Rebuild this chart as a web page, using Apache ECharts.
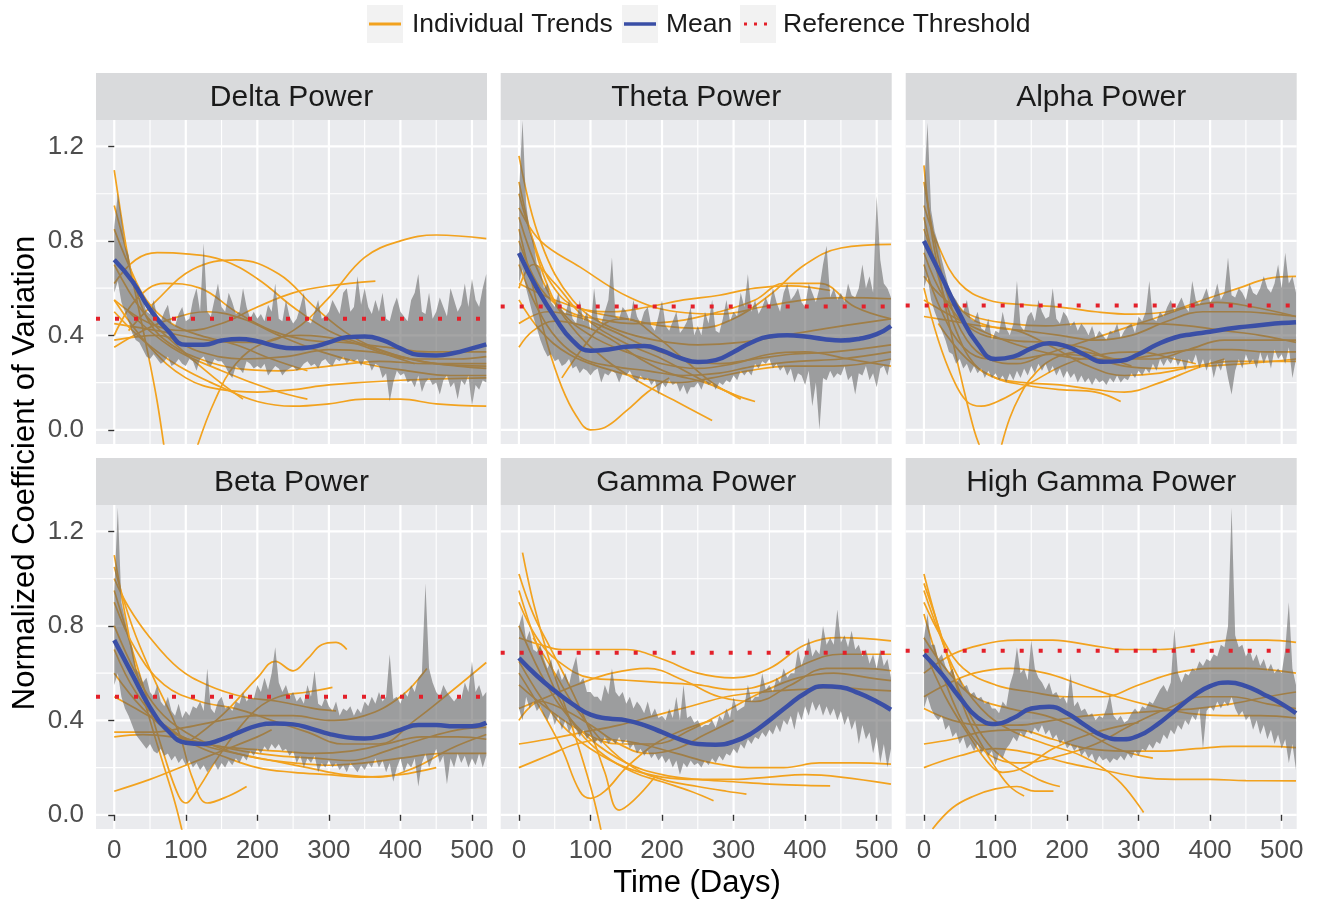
<!DOCTYPE html>
<html>
<head>
<meta charset="utf-8">
<script src="https://cdn.jsdelivr.net/npm/echarts@6/dist/echarts.min.js"></script>
<style>
  html, body { margin: 0; padding: 0; background: #ffffff; }
  #chart { width: 1321px; height: 904px; }
</style>
</head>
<body>
<div id="chart"></div>
<script>
// ---------- data ----------
const panelTitles = ['Delta Power', 'Theta Power', 'Alpha Power', 'Beta Power', 'Gamma Power', 'High Gamma Power'];
const thresholds = [0.47, 0.522, 0.527, 0.50, 0.686, 0.695];

const xTicks = [0, 100, 200, 300, 400, 500];
const xMinorBreaks = [50, 150, 250, 350, 450];
const yTicks = [0, 0.4, 0.8, 1.2];
const yMinorBreaks = [0.2, 0.6, 1.0];

// smoothed group mean, sampled on these days
const meanDays = [0, 25, 50, 75, 100, 125, 150, 175, 200, 225, 250, 275, 300, 325, 350, 375, 400, 425, 450, 475, 500, 520];
const deltaMean     = [.72, .63, .51, .42, .36, .36, .378, .385, .375, .355, .345, .35, .37, .392, .395, .38, .345, .318, .315, .325, .345, .362];
const thetaMean     = [.749, .60, .477, .378, .335, .34, .352, .355, .335, .305, .287, .295, .33, .37, .395, .40, .395, .385, .378, .385, .405, .44];
const alphaMean     = [.80, .647, .49, .364, .30, .31, .345, .367, .352, .318, .288, .292, .32, .36, .39, .405, .415, .428, .437, .445, .452, .456];
const betaMean      = [.74, .596, .455, .356, .305, .30, .32, .35, .378, .387, .383, .365, .343, .328, .323, .335, .36, .38, .38, .375, .375, .39];
const gammaMean     = [.664, .589, .525, .469, .424, .408, .40, .38, .35, .32, .30, .297, .31, .345, .40, .46, .515, .545, .54, .515, .48, .445];
const highGammaMean = [.68, .596, .497, .412, .385, .41, .45, .458, .43, .38, .335, .32, .335, .38, .44, .50, .545, .56, .545, .51, .47, .43];

// daily spread band (upper / lower), one value every BAND_STEP days from day 0 to 520
const BAND_STEP = 5;
const deltaBandHi = [
  .86,1.0,.9,.78,.74,.64,.63,.56,.55,.5,
  .49,.55,.48,.46,.5,.53,.45,.44,.49,.52,
  .46,.47,.55,.6,.5,.79,.5,.48,.55,.62,
  .52,.5,.58,.54,.49,.5,.6,.52,.47,.5,
  .47,.49,.46,.53,.5,.62,.47,.46,.55,.48,
  .45,.47,.52,.58,.46,.45,.5,.55,.47,.48,
  .5,.55,.52,.49,.58,.6,.5,.52,.65,.53,
  .6,.52,.49,.55,.5,.58,.47,.46,.52,.56,
  .5,.48,.46,.55,.58,.66,.5,.49,.58,.47,
  .5,.56,.52,.48,.6,.55,.5,.53,.62,.52,
  .64,.55,.52,.6,.66];
const deltaBandLo = [
  .58,.63,.54,.5,.46,.41,.38,.37,.34,.31,
  .3,.32,.3,.28,.29,.31,.27,.28,.3,.28,
  .27,.3,.29,.25,.3,.31,.28,.27,.3,.29,
  .29,.27,.24,.22,.27,.26,.24,.29,.28,.26,
  .27,.26,.28,.23,.25,.27,.26,.23,.25,.26,
  .27,.25,.26,.28,.29,.27,.28,.26,.29,.3,
  .28,.27,.3,.29,.31,.28,.3,.29,.3,.27,
  .3,.29,.25,.28,.27,.22,.24,.12,.2,.25,
  .23,.24,.2,.21,.18,.23,.16,.2,.22,.19,
  .2,.15,.21,.23,.18,.2,.13,.21,.19,.23,
  .1,.19,.17,.21,.2];
const thetaBandHi = [
  1.0,1.31,.96,.84,.8,.7,.68,.6,.62,.54,
  .52,.58,.51,.49,.55,.47,.45,.55,.46,.5,
  .42,.6,.47,.45,.5,.55,.73,.48,.47,.52,
  .5,.46,.55,.48,.45,.5,.52,.44,.42,.48,
  .55,.44,.42,.46,.5,.41,.43,.46,.52,.4,
  .44,.4,.5,.45,.55,.42,.41,.47,.55,.46,
  .5,.48,.58,.52,.66,.5,.55,.49,.52,.56,
  .52,.6,.54,.5,.58,.62,.55,.57,.6,.54,
  .52,.62,.58,.54,.6,.7,.78,.56,.6,.55,
  .58,.54,.62,.57,.56,.6,.7,.6,.65,.58,
  .99,.72,.62,.6,.56];
const thetaBandLo = [
  .62,.68,.6,.54,.48,.43,.38,.34,.31,.32,
  .29,.3,.27,.28,.3,.26,.27,.24,.26,.25,
  .23,.25,.26,.2,.24,.23,.25,.24,.2,.24,
  .23,.25,.22,.2,.23,.21,.22,.19,.21,.15,
  .2,.18,.21,.19,.2,.16,.19,.15,.18,.18,
  .2,.17,.21,.19,.2,.17,.2,.19,.21,.2,
  .23,.21,.25,.23,.25,.23,.28,.26,.29,.28,
  .3,.26,.28,.25,.27,.23,.26,.2,.24,.23,
  .19,.25,.1,.2,.0,.22,.21,.25,.22,.24,
  .23,.27,.21,.23,.15,.24,.23,.27,.21,.24,
  .18,.26,.27,.23,.3];
const alphaBandHi = [
  1.0,1.3,.93,.84,.79,.72,.66,.6,.57,.55,
  .52,.5,.55,.47,.46,.5,.43,.42,.47,.38,
  .42,.41,.5,.43,.4,.45,.63,.44,.42,.48,
  .5,.46,.55,.5,.47,.48,.6,.47,.45,.5,
  .48,.44,.46,.42,.45,.43,.4,.44,.39,.42,
  .4,.38,.42,.41,.45,.39,.42,.44,.45,.41,
  .48,.46,.5,.63,.47,.46,.5,.48,.52,.55,
  .5,.53,.56,.52,.5,.63,.55,.53,.56,.6,
  .54,.56,.62,.55,.58,.73,.57,.56,.6,.58,
  .55,.62,.58,.57,.6,.65,.6,.58,.62,.7,
  .6,.75,.62,.65,.58];
const alphaBandLo = [
  .6,.65,.55,.5,.46,.42,.38,.33,.32,.28,
  .3,.26,.28,.24,.27,.24,.26,.22,.25,.22,
  .24,.21,.23,.2,.24,.21,.25,.22,.26,.23,
  .27,.24,.28,.25,.28,.24,.27,.23,.26,.22,
  .25,.22,.24,.2,.23,.2,.22,.19,.22,.2,
  .21,.19,.22,.2,.23,.2,.22,.21,.24,.22,
  .25,.23,.26,.24,.28,.25,.3,.27,.3,.28,
  .31,.27,.3,.25,.3,.28,.32,.26,.3,.25,
  .3,.22,.28,.25,.3,.22,.15,.25,.3,.26,
  .32,.28,.3,.26,.33,.28,.32,.26,.34,.3,
  .32,.28,.35,.22,.3];
const betaBandHi = [
  .95,1.3,.9,.83,.75,.71,.62,.6,.56,.58,
  .52,.5,.55,.48,.46,.5,.44,.42,.47,.41,
  .44,.42,.46,.45,.48,.44,.62,.45,.43,.48,
  .5,.45,.46,.44,.48,.47,.52,.48,.5,.49,
  .55,.52,.58,.53,.6,.71,.56,.52,.55,.5,
  .52,.48,.5,.47,.55,.5,.61,.47,.46,.5,
  .46,.44,.48,.42,.45,.44,.46,.42,.45,.43,
  .48,.46,.5,.47,.52,.48,.5,.68,.49,.5,
  .47,.52,.5,.55,.52,.58,.6,.98,.62,.56,
  .52,.5,.55,.52,.5,.48,.5,.49,.56,.52,
  .65,.52,.55,.5,.52];
const betaBandLo = [
  .55,.6,.5,.45,.42,.38,.34,.32,.3,.28,
  .3,.27,.26,.28,.25,.26,.23,.25,.22,.24,
  .21,.23,.2,.22,.19,.21,.18,.2,.22,.19,
  .22,.2,.23,.21,.24,.22,.25,.23,.27,.25,
  .28,.26,.29,.27,.3,.28,.3,.27,.28,.25,
  .27,.22,.25,.2,.24,.22,.25,.18,.22,.2,
  .23,.2,.22,.19,.21,.18,.22,.2,.18,.21,
  .19,.22,.2,.24,.2,.23,.18,.22,.14,.2,
  .24,.18,.22,.2,.24,.12,.22,.26,.2,.24,
  .28,.22,.25,.13,.24,.2,.26,.22,.25,.2,
  .24,.21,.26,.2,.25];
const gammaBandHi = [
  .8,.85,.74,.78,.7,.69,.72,.66,.62,.66,
  .58,.62,.57,.6,.55,.62,.67,.56,.58,.52,
  .52,.5,.5,.48,.55,.51,.62,.52,.5,.52,
  .47,.5,.45,.48,.46,.43,.48,.42,.45,.41,
  .42,.4,.45,.41,.5,.4,.55,.41,.42,.39,
  .4,.37,.38,.38,.4,.37,.42,.4,.45,.41,
  .5,.44,.45,.46,.55,.48,.5,.5,.6,.53,
  .55,.52,.58,.56,.62,.58,.6,.6,.7,.63,
  .68,.75,.67,.7,.68,.8,.72,.75,.72,.87,
  .73,.76,.71,.78,.7,.72,.67,.7,.64,.68,
  .62,.7,.63,.66,.58];
const gammaBandLo = [
  .45,.4,.5,.45,.48,.44,.46,.42,.4,.44,
  .38,.42,.36,.4,.35,.38,.36,.33,.36,.32,
  .34,.3,.32,.3,.33,.3,.32,.3,.33,.3,
  .32,.28,.3,.26,.28,.25,.27,.24,.26,.23,
  .25,.22,.24,.2,.23,.17,.22,.2,.23,.21,
  .22,.2,.23,.21,.24,.22,.25,.23,.26,.25,
  .28,.26,.3,.28,.32,.3,.33,.32,.35,.33,
  .36,.34,.38,.35,.4,.38,.42,.36,.44,.4,
  .46,.42,.48,.44,.47,.42,.46,.42,.45,.4,
  .44,.38,.42,.36,.4,.3,.38,.32,.35,.26,
  .33,.22,.3,.2,.28];
const highGammaBandHi = [
  .75,.85,.72,.72,.66,.68,.63,.6,.62,.56,
  .58,.54,.55,.51,.52,.49,.5,.47,.48,.45,
  .45,.43,.48,.46,.55,.6,.71,.6,.62,.57,
  .74,.62,.58,.56,.53,.56,.51,.52,.49,.5,
  .47,.6,.46,.48,.44,.45,.42,.43,.4,.42,
  .41,.45,.51,.42,.4,.42,.39,.4,.43,.45,
  .43,.46,.45,.48,.47,.5,.53,.55,.52,.56,
  .79,.6,.56,.6,.59,.62,.61,.65,.63,.66,
  .65,.68,.67,.72,.71,.8,1.3,.76,.71,.72,
  .67,.7,.65,.68,.63,.66,.61,.64,.6,.62,
  .6,.7,.9,.62,.55];
const highGammaBandLo = [
  .45,.5,.45,.42,.4,.42,.36,.38,.33,.35,
  .3,.33,.28,.3,.27,.3,.26,.28,.25,.27,
  .21,.26,.24,.28,.3,.33,.31,.35,.33,.36,
  .34,.37,.35,.38,.34,.36,.32,.34,.3,.32,
  .28,.3,.27,.29,.25,.27,.24,.26,.22,.25,
  .23,.24,.22,.24,.23,.25,.23,.26,.24,.27,
  .25,.28,.27,.3,.28,.31,.3,.34,.32,.36,
  .34,.38,.36,.4,.38,.42,.4,.45,.28,.44,
  .46,.44,.48,.45,.48,.46,.5,.45,.42,.44,
  .4,.42,.36,.4,.34,.38,.32,.36,.3,.34,
  .28,.32,.22,.3,.19];

// individual subject trends: [day, value] points of each fitted curve
const deltaTrends = [
  [[0,.45],[60,.42],[130,.38],[200,.37],[250,.42],[300,.56],[350,.73],[400,.80],[450,.825],[520,.81]],
  [[0,.55],[50,.45],[100,.42],[150,.45],[200,.52],[250,.58],[300,.61],[365,.63]],
  [[0,.62],[30,.72],[60,.75],[100,.745],[150,.72],[200,.64],[250,.52],[300,.42],[350,.36],[400,.31],[450,.28],[520,.27]],
  [[20,.42],[60,.55],[110,.68],[170,.72],[230,.66],[280,.52],[330,.40],[380,.33],[430,.29],[480,.27],[520,.26]],
  [[0,1.1],[10,.9],[20,.72],[35,.5],[50,.28],[60,.12],[70,-.08]],
  [[115,-.08],[140,.12],[170,.28],[210,.37],[260,.4],[320,.38],[380,.32],[420,.28]],
  [[0,.5],[40,.38],[90,.27],[150,.18],[200,.12],[250,.10],[300,.11],[350,.13],[400,.13],[450,.11],[520,.10]],
  [[0,.55],[50,.35],[100,.22],[150,.17],[200,.16],[250,.17],[300,.19],[400,.21],[520,.22]],
  [[20,.5],[80,.35],[150,.25],[220,.17],[270,.13]],
  [[0,.7],[40,.5],[90,.35],[140,.22],[180,.13]],
  [[0,.38],[60,.4],[120,.33],[180,.3],[240,.31],[300,.34],[360,.33],[420,.3],[480,.3],[520,.31]],
  [[0,.35],[40,.42],[80,.47],[130,.5],[180,.47],[230,.4],[290,.33],[350,.28],[410,.25],[470,.23],[520,.23]],
  [[0,.95],[15,.78],[30,.6],[50,.45],[80,.36],[120,.3],[170,.26],[230,.25],[300,.27],[370,.29],[440,.28],[520,.28]],
  [[0,.85],[20,.7],[45,.55],[80,.45],[120,.4],[170,.36],[220,.3],[270,.25]],
  [[0,.4],[30,.55],[70,.62],[120,.6],[170,.5],[220,.42],[270,.38],[320,.37],[380,.35],[440,.33],[520,.33]]
];
const thetaTrends = [
  [[0,1.16],[15,.95],[30,.8],[50,.66],[75,.55],[100,.48],[140,.42],[190,.38],[250,.36],[310,.37],[370,.4],[430,.43],[520,.47]],
  [[0,.62],[50,.55],[100,.5],[150,.47],[200,.44],[250,.43],[300,.47],[350,.57],[400,.7],[450,.77],[520,.785]],
  [[0,.9],[30,.65],[70,.45],[120,.3],[170,.2],[220,.12],[270,.04]],
  [[0,.85],[20,.6],[40,.36],[60,.18],[80,.06],[100,0],[120,.01],[150,.08],[180,.16],[210,.22]],
  [[0,1.0],[20,.8],[45,.62],[80,.52],[130,.5],[180,.52],[230,.55],[280,.57],[330,.6],[380,.61],[435,.59]],
  [[0,.94],[30,.8],[85,.69],[155,.56],[220,.5],[280,.49],[340,.52],[400,.55],[460,.56],[520,.555]],
  [[0,.45],[40,.5],[80,.48],[130,.42],[180,.35],[230,.3],[280,.28],[330,.3],[380,.32],[440,.33],[520,.36]],
  [[0,.55],[30,.42],[70,.32],[120,.26],[170,.22],[220,.2],[270,.22],[320,.25],[380,.27],[440,.27],[520,.3]],
  [[0,.35],[20,.42],[50,.46],[90,.44],[130,.38],[170,.3],[210,.24],[260,.2],[300,.15]],
  [[0,.7],[25,.52],[55,.38],[90,.3],[130,.27],[180,.25],[230,.23],[280,.24],[330,.27],[390,.29],[450,.3],[520,.33]],
  [[0,1.05],[15,.85],[35,.65],[60,.5],[100,.4],[150,.33],[200,.28],[250,.26],[300,.28],[350,.32],[400,.33],[460,.3],[520,.27]],
  [[0,.8],[30,.6],[70,.5],[110,.47],[160,.45],[220,.46],[280,.5],[330,.55],[370,.62],[420,.62],[470,.52],[520,.47]],
  [[60,.22],[90,.35],[120,.45],[150,.47],[190,.4],[230,.3],[270,.2],[310,.13]],
  [[0,.6],[20,.7],[50,.62],[90,.48],[140,.38],[200,.3],[250,.22],[300,.15],[330,.12]]
];
const alphaTrends = [
  [[0,1.12],[10,.85],[25,.6],[40,.38],[55,.18],[70,0],[78,-.07]],
  [[108,-.07],[120,.05],[135,.15],[150,.22],[180,.3],[220,.33],[260,.3],[290,.27]],
  [[0,.95],[20,.78],[50,.62],[90,.55],[140,.53],[190,.52],[240,.5],[290,.49],[340,.5],[390,.55],[440,.6],[480,.64],[520,.65]],
  [[0,.85],[25,.65],[55,.5],[90,.44],[140,.42],[190,.4],[240,.38],[290,.4],[340,.46],[390,.5],[440,.5],[490,.49],[520,.48]],
  [[0,.75],[30,.55],[70,.42],[120,.38],[170,.37],[220,.35],[270,.3],[320,.3],[370,.34],[420,.38],[470,.38],[520,.38]],
  [[0,.55],[40,.48],[80,.42],[130,.36],[180,.32],[230,.3],[280,.3],[330,.32],[380,.34],[430,.34],[480,.33],[520,.33]],
  [[0,.48],[40,.46],[80,.44],[130,.42],[180,.35],[230,.27],[280,.23],[330,.24],[380,.27],[430,.29],[480,.29],[520,.29]],
  [[0,.9],[20,.65],[45,.42],[70,.28],[100,.22],[140,.2],[190,.19],[240,.17],[280,.16],[330,.2],[380,.26],[420,.3]],
  [[0,1.05],[15,.8],[35,.55],[60,.38],[90,.3],[130,.28],[170,.32],[210,.36],[250,.4],[290,.44],[330,.48],[370,.52],[410,.54],[460,.52],[520,.48]],
  [[0,.65],[30,.55],[70,.48],[120,.45],[170,.44],[220,.45],[270,.45],[320,.45],[370,.44],[420,.42],[470,.4],[520,.37]],
  [[20,.45],[60,.3],[100,.22],[140,.19],[190,.17],[240,.16],[275,.12]],
  [[0,.6],[20,.38],[40,.22],[60,.12],[80,.1],[110,.13],[150,.2],[200,.28],[250,.32],[300,.33],[350,.3],[380,.28]],
  [[0,.7],[25,.5],[55,.35],[90,.3],[130,.3],[180,.32],[230,.31],[280,.27],[330,.26],[390,.27],[450,.28],[520,.3]]
];
const betaTrends = [
  [[0,.1],[50,.15],[100,.21],[150,.27],[200,.33],[220,.36]],
  [[100,.3],[150,.42],[200,.58],[225,.65],[250,.61],[270,.66],[290,.72],[310,.73],[325,.7]],
  [[0,1.1],[15,.85],[30,.62],[50,.4],[70,.2],[85,.05],[95,-.07]],
  [[0,1.05],[25,.8],[55,.58],[90,.35],[110,.15],[130,.05],[160,.08],[185,.12]],
  [[0,.95],[20,.75],[45,.5],[70,.25],[90,.08],[100,.05],[115,.1],[140,.22],[170,.35],[200,.45],[230,.5],[270,.52],[305,.54]],
  [[0,.35],[50,.35],[100,.37],[150,.4],[200,.42],[250,.42],[300,.4],[350,.42],[400,.5],[437,.62]],
  [[0,.9],[30,.7],[70,.55],[120,.48],[170,.45],[220,.4],[270,.35],[320,.3],[370,.3],[420,.4],[470,.52],[520,.645]],
  [[0,.7],[30,.52],[70,.38],[120,.3],[170,.26],[220,.23],[270,.2],[320,.17],[370,.16],[420,.2],[470,.28],[520,.34]],
  [[0,.6],[40,.45],[80,.35],[130,.3],[180,.28],[230,.27],[280,.26],[330,.27],[380,.3],[430,.33],[480,.33],[520,.32]],
  [[0,.8],[30,.6],[60,.45],[100,.35],[150,.28],[200,.24],[250,.22],[300,.21],[350,.22],[400,.24],[460,.26],[520,.26]],
  [[0,.33],[40,.34],[80,.33],[130,.3],[180,.27],[230,.25],[280,.24],[330,.23],[380,.27],[430,.32],[480,.36],[520,.37]],
  [[0,1.0],[20,.88],[50,.75],[90,.62],[130,.55],[180,.5],[230,.48],[280,.45],[310,.44]],
  [[0,.5],[30,.45],[70,.38],[110,.3],[150,.25],[200,.2],[250,.18],[300,.17],[350,.16],[400,.17],[450,.2]]
];
const gammaTrends = [
  [[5,1.11],[20,.9],[40,.68],[60,.5],[80,.32],[100,.12],[110,0],[115,-.07]],
  [[0,1.02],[20,.85],[45,.7],[70,.55],[100,.35],[120,.18],[140,.02],[160,.06],[190,.16]],
  [[0,.6],[30,.45],[60,.28],[85,.1],[100,.07],[120,.1],[150,.2],[190,.3],[230,.36],[270,.4]],
  [[0,.75],[30,.72],[60,.7],[100,.7],[150,.7],[200,.66],[250,.6],[300,.58],[350,.62],[400,.72],[450,.75],[520,.737]],
  [[0,.9],[25,.75],[55,.65],[100,.58],[150,.57],[200,.56],[250,.55],[300,.53],[350,.56],[400,.64],[450,.68],[520,.68]],
  [[0,.45],[40,.5],[80,.55],[130,.6],[180,.62],[230,.57],[280,.5],[330,.48],[380,.55],[430,.62],[480,.62],[520,.61]],
  [[0,.55],[40,.45],[90,.35],[140,.3],[190,.3],[240,.36],[290,.44],[340,.52],[390,.58],[440,.6],[490,.58],[520,.568]],
  [[0,.3],[40,.32],[90,.35],[140,.38],[190,.42],[240,.46],[290,.5],[340,.52],[390,.53],[440,.54],[490,.53],[520,.525]],
  [[0,.2],[40,.25],[80,.3],[120,.32],[170,.3],[220,.26],[270,.22],[320,.2],[370,.2],[420,.22],[470,.22],[520,.215]],
  [[0,.65],[30,.5],[60,.38],[100,.28],[150,.2],[200,.16],[250,.15],[300,.15],[350,.16],[400,.17],[450,.16],[520,.13]],
  [[0,.8],[30,.6],[60,.45],[100,.32],[150,.22],[200,.17],[250,.15],[300,.14],[350,.13],[400,.125],[435,.123]],
  [[20,.75],[50,.6],[80,.45],[120,.3],[160,.2],[200,.15],[250,.12],[290,.1],[318,.088]],
  [[0,.95],[25,.72],[55,.5],[85,.35],[120,.25],[160,.18],[200,.14],[240,.1],[272,.06]],
  [[0,.4],[30,.48],[60,.45],[100,.38],[140,.3],[180,.26],[220,.28],[260,.34],[300,.4]]
];
const highGammaTrends = [
  [[0,1.02],[15,.85],[35,.65],[60,.45],[90,.3],[120,.22],[160,.15],[190,.12]],
  [[12,-.06],[40,.03],[70,.08],[100,.11],[130,.12],[155,.1],[181,.1]],
  [[0,.95],[20,.78],[45,.6],[80,.45],[120,.36],[170,.3],[220,.25],[270,.15],[307,.01]],
  [[0,.6],[40,.68],[80,.72],[130,.74],[180,.74],[230,.72],[280,.7],[330,.7],[380,.72],[430,.74],[480,.74],[520,.73]],
  [[0,.9],[25,.75],[55,.62],[100,.55],[150,.52],[200,.5],[250,.5],[300,.55],[350,.6],[400,.62],[450,.62],[520,.6]],
  [[0,.5],[30,.55],[70,.6],[120,.62],[170,.6],[220,.55],[270,.5],[320,.46],[370,.43],[420,.42],[470,.42],[520,.41]],
  [[0,.3],[40,.32],[80,.35],[130,.36],[180,.32],[230,.28],[280,.27],[330,.27],[380,.28],[430,.29],[480,.29],[520,.285]],
  [[0,.2],[50,.25],[100,.28],[150,.26],[200,.22],[250,.19],[300,.16],[350,.15],[400,.15],[450,.145],[520,.144]],
  [[0,.85],[20,.65],[45,.45],[70,.32],[100,.24],[140,.22],[190,.25],[240,.3],[290,.38],[340,.45],[390,.5],[430,.5],[480,.47],[520,.45]],
  [[0,.7],[30,.5],[60,.35],[90,.22],[110,.18],[140,.2],[180,.28],[230,.34],[280,.38],[300,.39]],
  [[0,.98],[20,.8],[40,.6],[60,.42],[80,.3],[100,.2],[120,.12],[140,.08]],
  [[0,.45],[40,.4],[80,.38],[130,.38],[180,.4],[230,.42],[280,.43],[330,.44],[380,.45],[430,.47],[480,.5],[520,.52]],
  [[0,.75],[30,.62],[70,.5],[120,.45],[170,.42],[220,.36],[270,.28],[320,.24]]
];

// ---------- layout & style ----------
const FONT = '"Liberation Sans", Arial, Helvetica, sans-serif';
const X_MIN = -25.5, X_MAX = 521;
const Y_MIN = -0.06, Y_MAX = 1.312;
const COL_LEFT = [96, 500.7, 905.7];
const PANEL_W = 391;
const PLOT_TOP = [120, 505];
const PLOT_H = 324;
const STRIP_H = 47;

const C_TREND = '#F2A21E';
const C_MEAN = '#3A4FA6';
const C_THR = '#E3202A';
const C_BAND = 'rgba(100,100,100,0.58)';
const C_PANEL = '#EAEBEE';
const C_STRIP = '#D9DADC';

const panels = [
  { title: panelTitles[0], mean: deltaMean,     hi: deltaBandHi,     lo: deltaBandLo,     trends: deltaTrends,     thr: thresholds[0] },
  { title: panelTitles[1], mean: thetaMean,     hi: thetaBandHi,     lo: thetaBandLo,     trends: thetaTrends,     thr: thresholds[1] },
  { title: panelTitles[2], mean: alphaMean,     hi: alphaBandHi,     lo: alphaBandLo,     trends: alphaTrends,     thr: thresholds[2] },
  { title: panelTitles[3], mean: betaMean,      hi: betaBandHi,      lo: betaBandLo,      trends: betaTrends,      thr: thresholds[3] },
  { title: panelTitles[4], mean: gammaMean,     hi: gammaBandHi,     lo: gammaBandLo,     trends: gammaTrends,     thr: thresholds[4] },
  { title: panelTitles[5], mean: highGammaMean, hi: highGammaBandHi, lo: highGammaBandLo, trends: highGammaTrends, thr: thresholds[5] }
];

// white major / minor grid lines, drawn through the panel's own scales
function renderGridLines(params, api) {
  const children = [];
  const seg = (a, b, w) => children.push({
    type: 'line',
    shape: { x1: a[0], y1: a[1], x2: b[0], y2: b[1] },
    style: { stroke: '#ffffff', lineWidth: w }
  });
  xMinorBreaks.forEach(v => seg(api.coord([v, Y_MIN]), api.coord([v, Y_MAX]), 1.1));
  yMinorBreaks.forEach(v => seg(api.coord([X_MIN, v]), api.coord([X_MAX, v]), 1.1));
  xTicks.forEach(v => seg(api.coord([v, Y_MIN]), api.coord([v, Y_MAX]), 2.2));
  yTicks.forEach(v => seg(api.coord([X_MIN, v]), api.coord([X_MAX, v]), 2.2));
  return { type: 'group', children };
}

function bandRenderer(hi, lo) {
  return function (params, api) {
    const pts = [];
    for (let k = 0; k < hi.length; k++) pts.push(api.coord([k * BAND_STEP, hi[k]]));
    for (let k = lo.length - 1; k >= 0; k--) pts.push(api.coord([k * BAND_STEP, lo[k]]));
    return { type: 'polygon', shape: { points: pts }, style: { fill: C_BAND } };
  };
}

const grids = [], xAxes = [], yAxes = [], series = [], graphics = [];

panels.forEach((p, i) => {
  const r = Math.floor(i / 3), c = i % 3;
  const left = COL_LEFT[c], top = PLOT_TOP[r];

  grids.push({ left, top, width: PANEL_W, height: PLOT_H, show: true, backgroundColor: C_PANEL, borderWidth: 0 });

  xAxes.push({
    type: 'value', gridIndex: i, min: X_MIN, max: X_MAX,
    axisLine: { show: false }, splitLine: { show: false },
    axisTick: { show: r === 1, length: 6, lineStyle: { color: '#333333', width: 1.4 }, customValues: xTicks },
    axisLabel: { show: r === 1, customValues: xTicks, fontSize: 26, color: '#4D4D4D', fontFamily: FONT, margin: 9 }
  });
  yAxes.push({
    type: 'value', gridIndex: i, min: Y_MIN, max: Y_MAX,
    axisLine: { show: false }, splitLine: { show: false },
    axisTick: { show: c === 0, length: 6, lineStyle: { color: '#333333', width: 1.4 }, customValues: yTicks },
    axisLabel: { show: c === 0, customValues: yTicks, fontSize: 26, color: '#4D4D4D', fontFamily: FONT, margin: 12,
                 formatter: v => Number(v).toFixed(1) }
  });

  series.push({
    type: 'custom', name: 'grid', xAxisIndex: i, yAxisIndex: i, silent: true, z: 0,
    data: [[0, 0]], renderItem: renderGridLines
  });
  p.trends.forEach(t => series.push({
    type: 'line', name: 'Individual Trends', xAxisIndex: i, yAxisIndex: i, silent: true, z: 1,
    data: t, smooth: 0.4, symbol: 'none', showSymbol: false,
    lineStyle: { color: C_TREND, width: 1.7 }
  }));
  series.push({
    type: 'custom', name: 'Spread', xAxisIndex: i, yAxisIndex: i, silent: true, z: 2, clip: true,
    data: [[0, 0]], renderItem: bandRenderer(p.hi, p.lo)
  });
  series.push({
    type: 'line', name: 'Mean', xAxisIndex: i, yAxisIndex: i, silent: true, z: 3,
    data: meanDays.map((d, k) => [d, p.mean[k]]), smooth: 0.5, symbol: 'none', showSymbol: false,
    lineStyle: { color: C_MEAN, width: 4.5 }
  });
  series.push({
    type: 'line', name: 'Reference Threshold', xAxisIndex: i, yAxisIndex: i, silent: true, z: 4,
    data: [[X_MIN, p.thr], [X_MAX, p.thr]], symbol: 'none', showSymbol: false,
    lineStyle: { color: C_THR, width: 4, type: [4, 15] }
  });

  // facet strip
  graphics.push({ type: 'rect', silent: true,
    shape: { x: left, y: top - STRIP_H, width: PANEL_W, height: STRIP_H }, style: { fill: C_STRIP } });
  graphics.push({ type: 'text', silent: true, x: left + PANEL_W / 2, y: top - STRIP_H / 2 + 1,
    style: { text: p.title, fontSize: 30, fontFamily: FONT, fill: '#1A1A1A', align: 'center', verticalAlign: 'middle' } });
});

// axis titles
graphics.push({ type: 'text', silent: true, x: 697, y: 883,
  style: { text: 'Time (Days)', fontSize: 31, fontFamily: FONT, fill: '#000000', align: 'center', verticalAlign: 'middle' } });
graphics.push({ type: 'text', silent: true, x: 25, y: 473, rotation: Math.PI / 2,
  style: { text: 'Normalized Coefficient of Variation', fontSize: 31, fontFamily: FONT, fill: '#000000', align: 'center', verticalAlign: 'middle' } });

// legend
const LEG_Y = 24;
const legendKeys = [
  { x: 367, text: 'Individual Trends', tx: 412 },
  { x: 622, text: 'Mean', tx: 666 },
  { x: 740, text: 'Reference Threshold', tx: 783 }
];
legendKeys.forEach(k => {
  graphics.push({ type: 'rect', silent: true, shape: { x: k.x, y: 5, width: 36, height: 38 }, style: { fill: '#F2F2F2' } });
  graphics.push({ type: 'text', silent: true, x: k.tx, y: LEG_Y + 1,
    style: { text: k.text, fontSize: 26.5, fontFamily: FONT, fill: '#1A1A1A', align: 'left', verticalAlign: 'middle' } });
});
graphics.push({ type: 'line', silent: true, shape: { x1: 369, y1: LEG_Y, x2: 401, y2: LEG_Y }, style: { stroke: C_TREND, lineWidth: 3 } });
graphics.push({ type: 'line', silent: true, shape: { x1: 624, y1: LEG_Y, x2: 656, y2: LEG_Y }, style: { stroke: C_MEAN, lineWidth: 3.5 } });
graphics.push({ type: 'line', silent: true, shape: { x1: 744, y1: LEG_Y, x2: 774, y2: LEG_Y }, style: { stroke: C_THR, lineWidth: 3, lineDash: [3, 7] } });

const chart = echarts.init(document.getElementById('chart'), null, { renderer: 'canvas' });
chart.setOption({
  animation: false,
  backgroundColor: '#ffffff',
  grid: grids,
  xAxis: xAxes,
  yAxis: yAxes,
  series: series,
  graphic: { elements: graphics }
});
</script>
</body>
</html>
